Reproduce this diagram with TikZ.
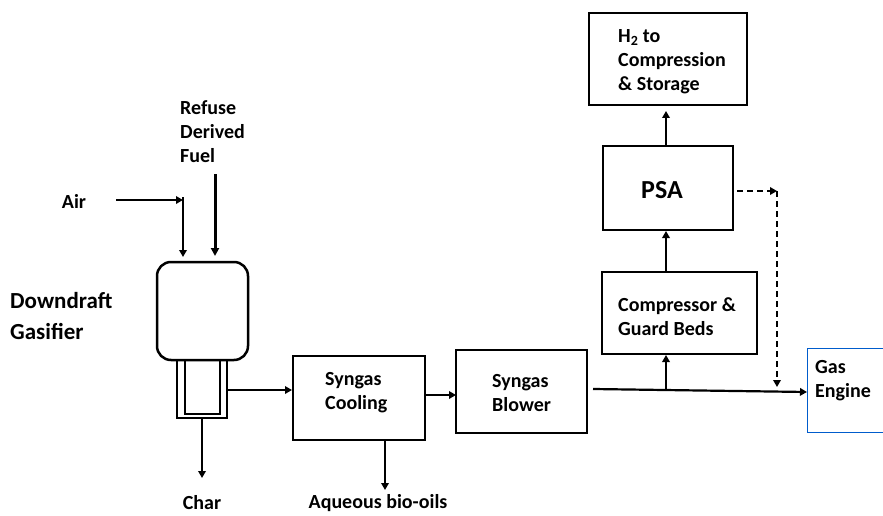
\documentclass[tikz,border=0pt]{standalone}
\usepackage{fontspec}
\setmainfont{Carlito}
\usetikzlibrary{arrows.meta}

\tikzset{
  flow/.style={line width=2.2pt, -{Triangle[length=7pt,width=7.5pt]}},
  dflow/.style={flow, dash pattern=on 6pt off 4pt},
  unit/.style={draw, line width=2pt, align=left, inner sep=0pt},
  lbl/.style={font=\fontsize{20}{24}\selectfont\bfseries, align=left, inner sep=0pt},
}

\begin{document}
\begin{tikzpicture}[x=1pt, y=-1pt]
    \useasboundingbox (0,0) rectangle (883,516);
    % gasifier
    \draw[line width=2.5pt, rounded corners=14pt] (157,262) rectangle (248,360);
    \draw[line width=2pt] (177,360) rectangle (227,418);
    \draw[line width=1.6pt] (185,360) -- (185,414) -- (220,414) -- (220,360);
    \coordinate (gasout) at (227,390);
    \coordinate (charout) at (202,418);
    \coordinate (charend) at (202,478);
    \node[lbl, font=\fontsize{23}{31}\selectfont\bfseries, anchor=west] (title) at (10,316) {Downdraft\\Gasifier};
    % feeds
    \node[lbl] (air) at (74,201) {Air};
    \node[lbl, anchor=west] (rdf) at (180,132) {Refuse\\Derived\\Fuel};
    \coordinate (airstart) at (116,200);
    \coordinate (airjoin) at (183,200);
    \coordinate (airdown) at (183,197);
    \coordinate (airin) at (183,257);
    \coordinate (rdfstart) at (215,174);
    \coordinate (rdfin) at (215,256);
    \draw[flow] (airstart) -- (airjoin);
    \draw[flow] (airdown) -- (airin);
    \draw[line width=3pt, -{Triangle[length=8pt,width=8pt]}] (rdfstart) -- (rdfin);
    % units
    \node[unit, minimum width=132pt, minimum height=84pt] (cooling) at (359,398) {};
    \node[lbl, anchor=west] at (325,393) {Syngas\\Cooling};
    \node[unit, minimum width=131pt, minimum height=83pt] (blower) at (521,391) {};
    \node[lbl, anchor=west] at (492,393) {Syngas\\Blower};
    \node[unit, minimum width=155pt, minimum height=82pt] (compressor) at (679,313) {};
    \node[lbl, anchor=west] at (618,317) {Compressor \&\\Guard Beds};
    \node[unit, minimum width=130pt, minimum height=84pt] (psa) at (668,188) {};
    \node[lbl, font=\fontsize{26}{30}\selectfont\bfseries] at (662,190) {PSA};
    \node[unit, minimum width=158pt, minimum height=92pt] (htwo) at (668,59) {};
    \node[lbl, anchor=west] at (618,62) {H\textsubscript{2} to\\Compression\\\& Storage};
    \node[draw=blue!55!cyan!80!black, line width=1pt, minimum width=110pt, minimum height=84pt, anchor=north west] (engine) at (807,348) {};
    \node[lbl, anchor=west] at (815,381) {Gas\\Engine};
    % products
    \node[lbl] (char) at (202,503) {Char};
    \node[lbl] (oils) at (378,503) {Aqueous bio-oils};
    % streams
    \coordinate (oilsout) at (385,440);
    \coordinate (oilsend) at (385,490);
    \coordinate (coolout) at (425,395);
    \coordinate (blowin) at (456,395);
    \coordinate (mainstart) at (593,389);
    \coordinate (mainend) at (807,392);
    \coordinate (compin) at (666,389);
    \coordinate (htwoin) at (666,111);
    \coordinate (dashstart) at (737,191);
    \coordinate (dashcorner) at (777,191);
    \coordinate (dashend) at (777,387);
    \draw[flow] (gasout) -- (gasout -| cooling.west);
    \draw[flow] (charout) -- (charend);
    \draw[flow] (oilsout) -- (oilsend);
    \draw[flow] (coolout) -- (blowin);
    \draw[flow] (mainstart) -- (mainend);
    \draw[flow] (compin) -- (compressor.south -| compin);
    \draw[flow] (compressor.north -| compin) -- (psa.south -| compin);
    \draw[flow] (psa.north -| compin) -- (htwoin);
    \draw[dflow] (dashstart) -- (dashcorner);
    \draw[dflow] (dashcorner) -- (dashend);
\end{tikzpicture}
\end{document}
